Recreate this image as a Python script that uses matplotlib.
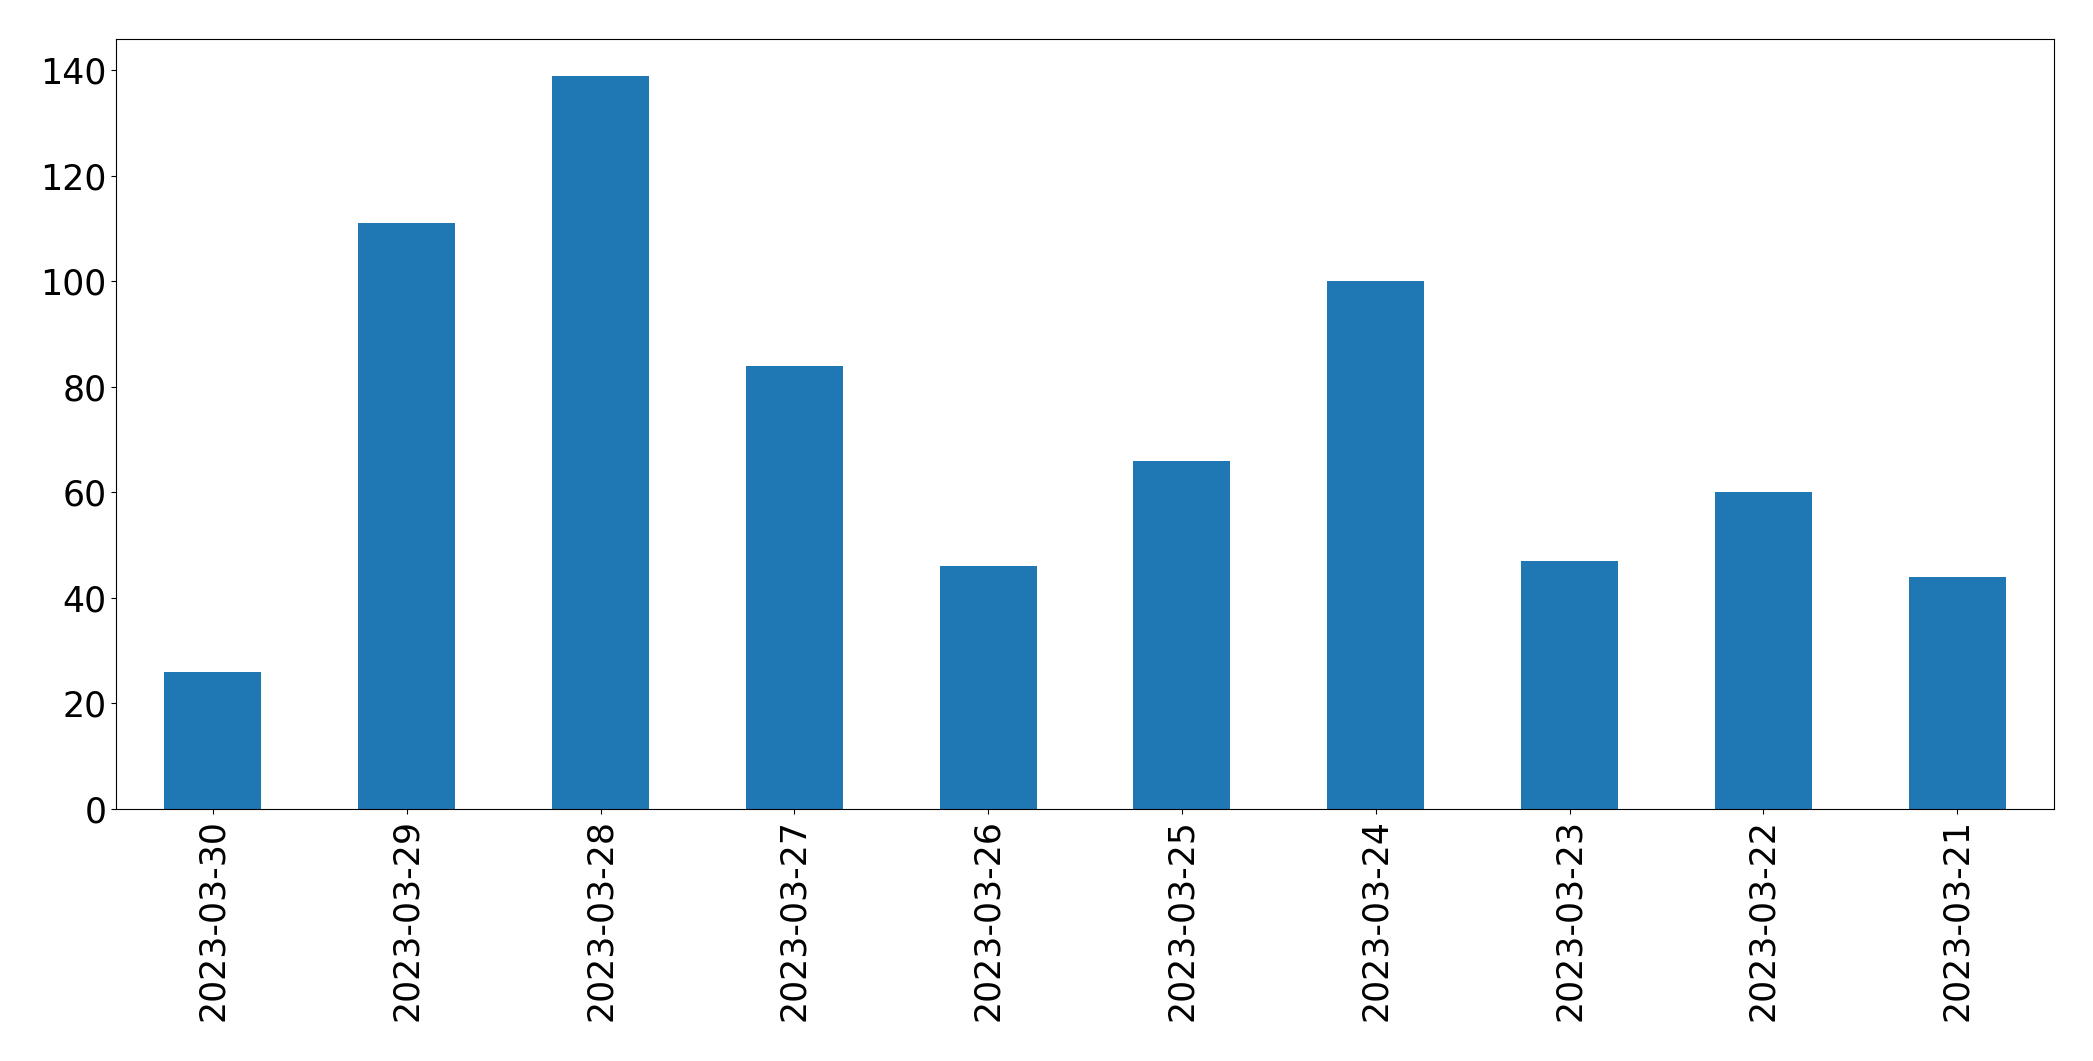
import matplotlib
matplotlib.use('Agg')
import matplotlib.pyplot as plt

dates = ['2023-03-30', '2023-03-29', '2023-03-28', '2023-03-27', '2023-03-26',
         '2023-03-25', '2023-03-24', '2023-03-23', '2023-03-22', '2023-03-21']
counts = [26, 111, 139, 84, 46, 66, 100, 47, 60, 44]

plt.rcParams['font.size'] = 25

fig, ax = plt.subplots(figsize=(20.93, 10.61), dpi=100)
ax.bar(range(len(dates)), counts, width=0.5, color='#1f77b4')
ax.set_xticks(range(len(dates)))
ax.set_xticklabels(dates, rotation=90)
ax.set_xlim(-0.5, len(dates) - 0.5)
fig.subplots_adjust(left=116 / 2093, right=2054 / 2093, top=1 - 39 / 1061, bottom=1 - 809 / 1061)
fig.savefig('out.png', dpi=100)
